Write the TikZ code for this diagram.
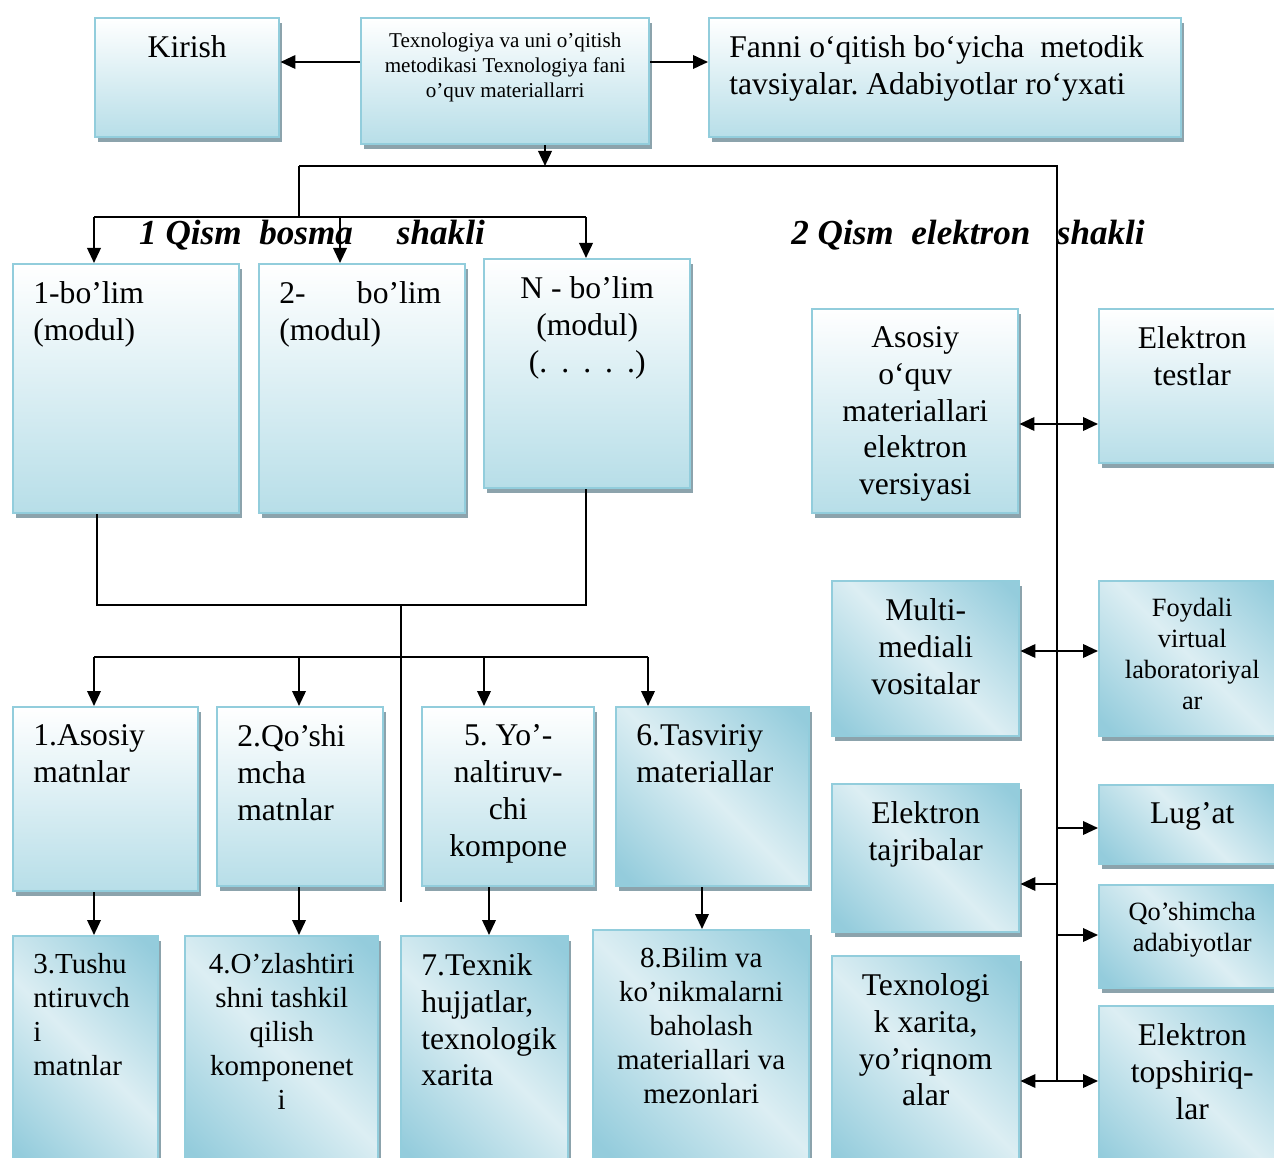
\documentclass[tikz,border=0pt]{standalone}
\usepackage{fontspec}
\setmainfont{Liberation Serif}
\frenchspacing
\usetikzlibrary{arrows.meta,calc,positioning,shadows}
\definecolor{frameblue}{RGB}{146,205,220}
\definecolor{fillblue}{RGB}{183,222,232}
\definecolor{diagdark}{RGB}{148,204,220}
\definecolor{diaglight}{RGB}{220,238,243}
\definecolor{shadowgray}{RGB}{140,163,172}
\pgfdeclarehorizontalshading{diagblue}{100bp}{color(0bp)=(diagdark); color(18bp)=(diagdark); color(50bp)=(diaglight); color(82bp)=(diagdark); color(100bp)=(diagdark)}
\newcommand\fbig{\fontsize{18}{21}\selectfont}
\newcommand\fmid{\fontsize{16.5}{19.3}\selectfont}
\newcommand\fsml{\fontsize{15}{17.6}\selectfont}
\newcommand\ftiny{\fontsize{12}{14.2}\selectfont}
\newcommand\ftitle{\fontsize{20}{24}\bfseries\itshape\selectfont}

\begin{document}
\begin{tikzpicture}[
        x=0.02cm,y=-0.02cm,
        box/.style={draw=frameblue,line width=1.4pt,anchor=north west,inner sep=0pt,
            drop shadow={shadow xshift=0.06cm,shadow yshift=-0.1cm,fill=shadowgray,opacity=1}},
        vbox/.style={box,top color=white,bottom color=fillblue},
        dbox/.style={box,shade,shading=diagblue,shading angle=45},
        sz/.style 2 args={minimum width=#1*0.02cm,minimum height=#2*0.02cm},
        txt/.style={anchor=north,align=center,inner sep=0pt,yshift=-0.36cm,font=\fbig},
        txtl/.style={anchor=north west,align=left,inner sep=0pt,xshift=0.42cm,yshift=-0.36cm,font=\fbig},
        title/.style={font=\ftitle},
        line/.style={line width=1.2pt},
        arr/.style={line,-{Triangle[length=0.3cm,width=0.27cm]}},
        arrs/.style={line,{Triangle[length=0.3cm,width=0.27cm]}-{Triangle[length=0.3cm,width=0.27cm]}}
    ]
        \fill[white] (0,0) rectangle (1274,1158);
        \useasboundingbox (0,0) rectangle (1274,1158);

        % top row
        \node[vbox,sz={184}{119},label={[txt]north:Kirish}] (kirish) at (94,17) {};
        \node[vbox,sz={288}{126},label={[txt,font=\ftiny,yshift=0.04cm]north:Texnologiya va uni o’qitish\\metodikasi Texnologiya fani\\o’quv materiallarri}] (ctr) at (360,17) {};
        \node[vbox,sz={472}{119},label={[txtl]north west:Fanni o‘qitish bo‘yicha\ \ metodik\\tavsiyalar. Adabiyotlar ro‘yxati}] (fanni) at (708,17) {};

        \node[title] (qism1) at (312,235) {1 Qism\ \ bosma\ \ \ \ \ shakli};
        \node[title] (qism2) at (968,235) {2 Qism\ \ elektron\ \ \ shakli};

        % bosma shakli
        \node[vbox,sz={226}{249},label={[txtl]north west:1-bo’lim\\(modul)}] (bolim1) at (12,263) {};
        \node[vbox,sz={206}{249},label={[txtl]north west:\makebox[3.24cm][l]{2-\hfill bo’lim}\\(modul)}] (bolim2) at (258,263) {};
        \node[vbox,sz={206}{229},label={[txt]north:N - bo’lim\\(modul)\\(.\hspace{8pt}.\hspace{8pt}.\hspace{8pt}.\hspace{8pt}.)}] (bolimn) at (483,258) {};

        \node[vbox,sz={185}{184},label={[txtl]north west:1.Asosiy\\matnlar}] (asosiymatn) at (12,706) {};
        \node[vbox,sz={166}{179},label={[txtl]north west:2.Qo’shi\\mcha\\matnlar}] (qoshmatn) at (216,706) {};
        \node[vbox,sz={172}{179},label={[txt]north:5. Yo’-\\naltiruv-\\chi\\kompone}] (yonaltir) at (421,706) {};
        \node[dbox,sz={193}{179},label={[txtl]north west:6.Tasviriy\\materiallar}] (tasviriy) at (615,706) {};

        \node[dbox,sz={145}{230},label={[txtl,font=\fmid]north west:3.Tushu\\ntiruvch\\i\\matnlar}] (tushun) at (12,935) {};
        \node[dbox,sz={193}{230},label={[txt,font=\fmid]north:4.O’zlashtiri\\shni tashkil\\qilish\\komponenet\\i}] (ozlash) at (184,935) {};
        \node[dbox,sz={167}{230},label={[txtl]north west:7.Texnik\\hujjatlar,\\texnologik\\xarita}] (texnik) at (400,935) {};
        \node[dbox,sz={216}{230},label={[txt,font=\fmid]north:8.Bilim va\\ko’nikmalarni\\baholash\\materiallari va\\mezonlari}] (bilim) at (592,929) {};

        % elektron shakli
        \node[vbox,sz={206}{204},label={[txt]north:Asosiy\\o‘quv\\materiallari\\elektron\\versiyasi}] (asosiy) at (811,308) {};
        \node[vbox,sz={186}{154},label={[txt]north:Elektron\\testlar}] (testlar) at (1098,308) {};
        \node[dbox,sz={187}{155},label={[txt]north:Multi-\\mediali\\vositalar}] (multi) at (831,580) {};
        \node[dbox,sz={186}{155},label={[txt,font=\fsml]north:Foydali\\virtual\\laboratoriyal\\ar}] (foydali) at (1098,580) {};
        \node[dbox,sz={187}{148},label={[txt]north:Elektron\\tajribalar}] (tajriba) at (831,783) {};
        \node[dbox,sz={186}{79},label={[txt]north:Lug’at}] (lugat) at (1098,784) {};
        \node[dbox,sz={186}{103},label={[txt,font=\fsml]north:Qo’shimcha\\adabiyotlar}] (qoshimcha) at (1098,884) {};
        \node[dbox,sz={187}{215},label={[txt]north:Texnologi\\k xarita,\\yo’riqnom\\alar}] (xarita) at (831,955) {};
        \node[dbox,sz={186}{165},label={[txt]north:Elektron\\topshiriq-\\lar}] (topshiriq) at (1098,1005) {};

        % bus points
        \coordinate (hub) at (545,166);
        \coordinate (busL) at (299,166);
        \coordinate (trunk) at (1057,166);
        \coordinate (trunkend) at (1057,1081);
        \coordinate (split) at (299,217);
        \coordinate (join) at (401,605);
        \coordinate (joinend) at (401,902);

        \draw[arr] ($(ctr.north west)+(0,45)$) -- ($(kirish.north east)+(0,45)$);
        \draw[arr] ($(ctr.north east)+(0,45)$) -- ($(fanni.north west)+(0,45)$);
        \draw[arr] (ctr.south -| hub) -- (hub);
        \draw[line] (busL) -- (trunk) -- (trunkend);
        \draw[line] (busL) -- (split);
        \draw[line] (94,217) -- (586,217);
        \draw[arr] (94,217) -- (bolim1.north -| 94,0);
        \draw[arr] (340,217) -- (bolim2.north -| 340,0);
        \draw[arr] (586,217) -- (bolimn.north -| 586,0);

        \draw[line] (bolim1.south -| 97,0) -- (97,605) -- (586,605) -- (bolimn.south -| 586,0);
        \draw[line] (join) -- (joinend);
        \draw[line] (94,657) -- (648,657);
        \draw[arr] (94,657) -- (asosiymatn.north -| 94,0);
        \draw[arr] (299,657) -- (qoshmatn.north -| 299,0);
        \draw[arr] (484,657) -- (yonaltir.north -| 484,0);
        \draw[arr] (648,657) -- (tasviriy.north -| 648,0);

        \draw[arr] (asosiymatn.south -| 94,0) -- (tushun.north -| 94,0);
        \draw[arr] (qoshmatn.south -| 299,0) -- (ozlash.north -| 299,0);
        \draw[arr] (yonaltir.south -| 489,0) -- (texnik.north -| 489,0);
        \draw[arr] (tasviriy.south -| 702,0) -- (bilim.north -| 702,0);

        \draw[arrs] (asosiy.east |- 0,424) -- (testlar.west |- 0,424);
        \draw[arrs] (multi.east |- 0,651) -- (foydali.west |- 0,651);
        \draw[arr] (trunk |- 0,828) -- (lugat.west |- 0,828);
        \draw[arr] (trunk |- 0,884) -- (tajriba.east |- 0,884);
        \draw[arr] (trunk |- 0,935) -- (qoshimcha.west |- 0,935);
        \draw[arrs] (xarita.east |- 0,1081) -- (topshiriq.west |- 0,1081);
    \end{tikzpicture}
\end{document}
